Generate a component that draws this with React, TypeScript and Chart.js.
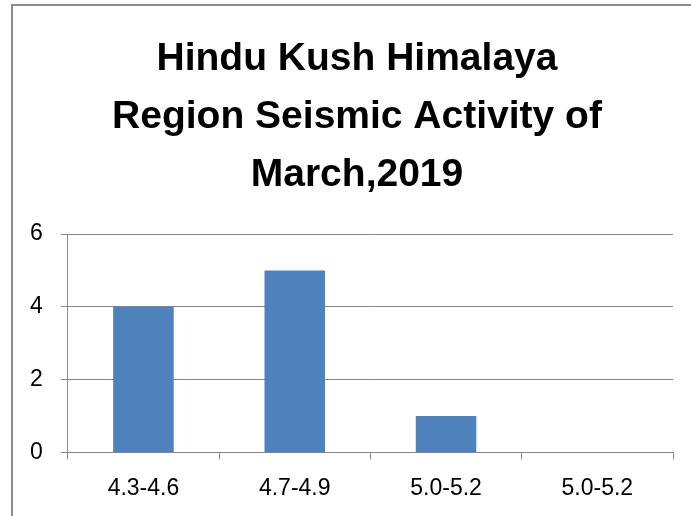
import React, { useEffect, useRef } from "react";
import { Chart, registerables } from "chart.js";

Chart.register(...registerables);

const categories: string[] = ["4.3-4.6", "4.7-4.9", "5.0-5.2", "5.0-5.2"];
const counts: number[] = [4, 5, 1, 0];
const titleLines: string[] = ["Hindu Kush Himalaya", "Region Seismic Activity of", "March,2019"];
const yMin = 0;
const yMax = 6;
const yStep = 2;

const shiftTitle = {
  id: "shiftTitle",
  afterLayout(chart: any) {
    const tb = chart.titleBlock;
    if (tb) {
      tb.left = 41;
      tb.right = 673;
      tb.width = tb.right - tb.left;
    }
  },
};

export default function App() {
  const ref = useRef<HTMLCanvasElement | null>(null);

  useEffect(() => {
    if (!ref.current) return;
    const grid = "#868686";
    const font = "'Liberation Sans', Arial, sans-serif";
    const chart = new Chart(ref.current, {
      type: "bar",
      data: {
        labels: categories,
        datasets: [
          {
            data: counts,
            backgroundColor: "#4F81BD",
            borderWidth: 0,
            barPercentage: 0.4,
            categoryPercentage: 1,
          },
        ],
      },
      plugins: [shiftTitle],
      options: {
        animation: false,
        responsive: false,
        devicePixelRatio: 1,
        layout: { padding: { left: 12, right: 18, top: 0, bottom: -1 } },
        plugins: {
          legend: { display: false },
          tooltip: { enabled: false },
          title: {
            display: true,
            text: titleLines,
            color: "#000",
            font: { family: font, size: 39, weight: "bold", lineHeight: 58 / 39 },
            padding: { top: 30, bottom: 30 },
          },
        },
        scales: {
          x: {
            offset: true,
            grid: {
              display: true,
              offset: true,
              drawOnChartArea: false,
              drawTicks: true,
              tickLength: 7,
              color: grid,
              lineWidth: 1,
            },
            border: { display: true, color: grid, width: 1 },
            ticks: {
              color: "#000",
              padding: 15,
              font: { family: font, size: 23 },
              maxRotation: 0,
            },
          },
          y: {
            min: yMin,
            max: yMax,
            grid: {
              color: grid,
              lineWidth: 1,
              tickLength: 7,
              drawTicks: true,
            },
            border: { display: true, color: grid, width: 1 },
            ticks: {
              stepSize: yStep,
              color: "#000",
              padding: 18,
              font: { family: font, size: 23 },
            },
          },
        },
      },
    });
    return () => chart.destroy();
  }, []);

  return (
    <div style={{ position: "fixed", left: 0, top: 0, width: 691, height: 516, overflow: "hidden", background: "#fff" }}>
      <div
        style={{
          position: "absolute",
          left: 11,
          top: 4,
          width: 760,
          height: 600,
          border: "2px solid #8c8c8c",
          boxSizing: "border-box",
        }}
      />
      <canvas ref={ref} width={691} height={516} style={{ position: "absolute", left: 0, top: 0, width: 691, height: 516 }} />
    </div>
  );
}
